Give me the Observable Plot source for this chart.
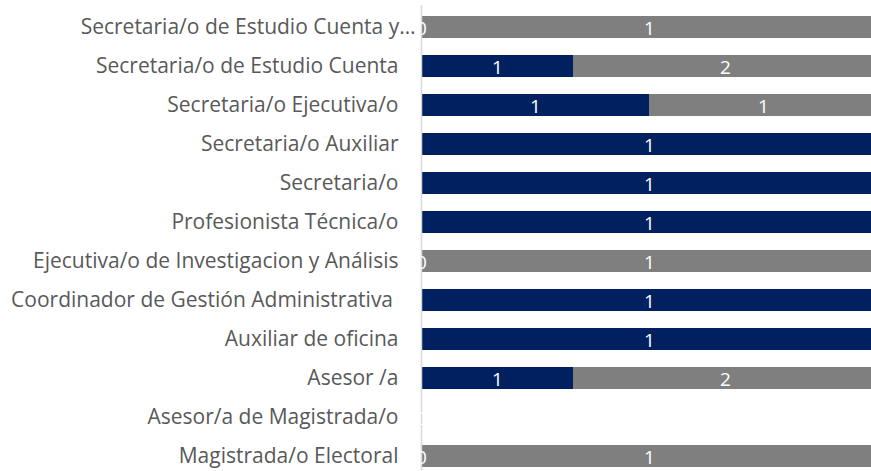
<!DOCTYPE html>
<html>
<head>
<meta charset="utf-8">
<script src="https://cdn.jsdelivr.net/npm/d3@7"></script>
<script src="https://cdn.jsdelivr.net/npm/@observablehq/plot@0.6"></script>
<style>
  html, body { margin: 0; padding: 0; background: #fff; overflow: hidden; }
  svg { max-width: none !important; }
</style>
</head>
<body>
<div id="chart"></div>
<script>
const roles = [
  "Secretaria/o de Estudio Cuenta y…",
  "Secretaria/o de Estudio Cuenta",
  "Secretaria/o Ejecutiva/o",
  "Secretaria/o Auxiliar",
  "Secretaria/o",
  "Profesionista Técnica/o",
  "Ejecutiva/o de Investigacion y Análisis",
  "Coordinador de Gestión Administrativa ",
  "Auxiliar de oficina",
  "Asesor /a",
  "Asesor/a de Magistrada/o",
  "Magistrada/o Electoral"
];
const seriesNames = ["Mujeres", "Hombres"];
const mujeres = [0, 1, 1, 1, 1, 1, 0, 1, 1, 1, 0, 0];
const hombres = [1, 2, 1, 0, 0, 0, 1, 0, 0, 2, 0, 1];
const colors = ["#002060", "#7f7f7f"];

const data = [];
roles.forEach((r, i) => {
  data.push({role: r, series: seriesNames[0], value: mujeres[i]});
  data.push({role: r, series: seriesNames[1], value: hombres[i]});
});
const labelData = data.filter(d => d.value > 0 || d.series === seriesNames[0]);

const font = "'Open Sans', sans-serif";
const chart = Plot.plot({
  width: 877,
  height: 478,
  marginLeft: 421,
  marginRight: 0,
  marginTop: 5,
  marginBottom: 0,
  style: {fontFamily: font, background: "#fff"},
  x: {axis: null},
  y: {domain: roles, paddingInner: 0.44, paddingOuter: 0.22, axis: null},
  color: {domain: seriesNames, range: colors},
  marks: [
    Plot.barX(data, Plot.stackX({x: "value", y: "role", fill: "series", offset: "normalize", order: seriesNames})),
    Plot.ruleX([0], {stroke: "#d9d9d9", strokeWidth: 1.5}),
    Plot.textX(labelData, Plot.stackX({x: "value", y: "role", z: "series", text: d => String(d.value), offset: "normalize", order: seriesNames, fill: "white", fontSize: 19, dy: 1, clip: true})),
    Plot.text(roles.slice(1), {y: d => d, x: 0, text: d => d, textAnchor: "end", dx: -23, fill: "#595959", fontSize: 21}),
    Plot.text(roles.slice(0, 1), {y: d => d, x: 0, text: d => d, textAnchor: "end", dx: -6, fill: "#595959", fontSize: 21})
  ]
});
document.getElementById("chart").append(chart);
</script>
</body>
</html>
